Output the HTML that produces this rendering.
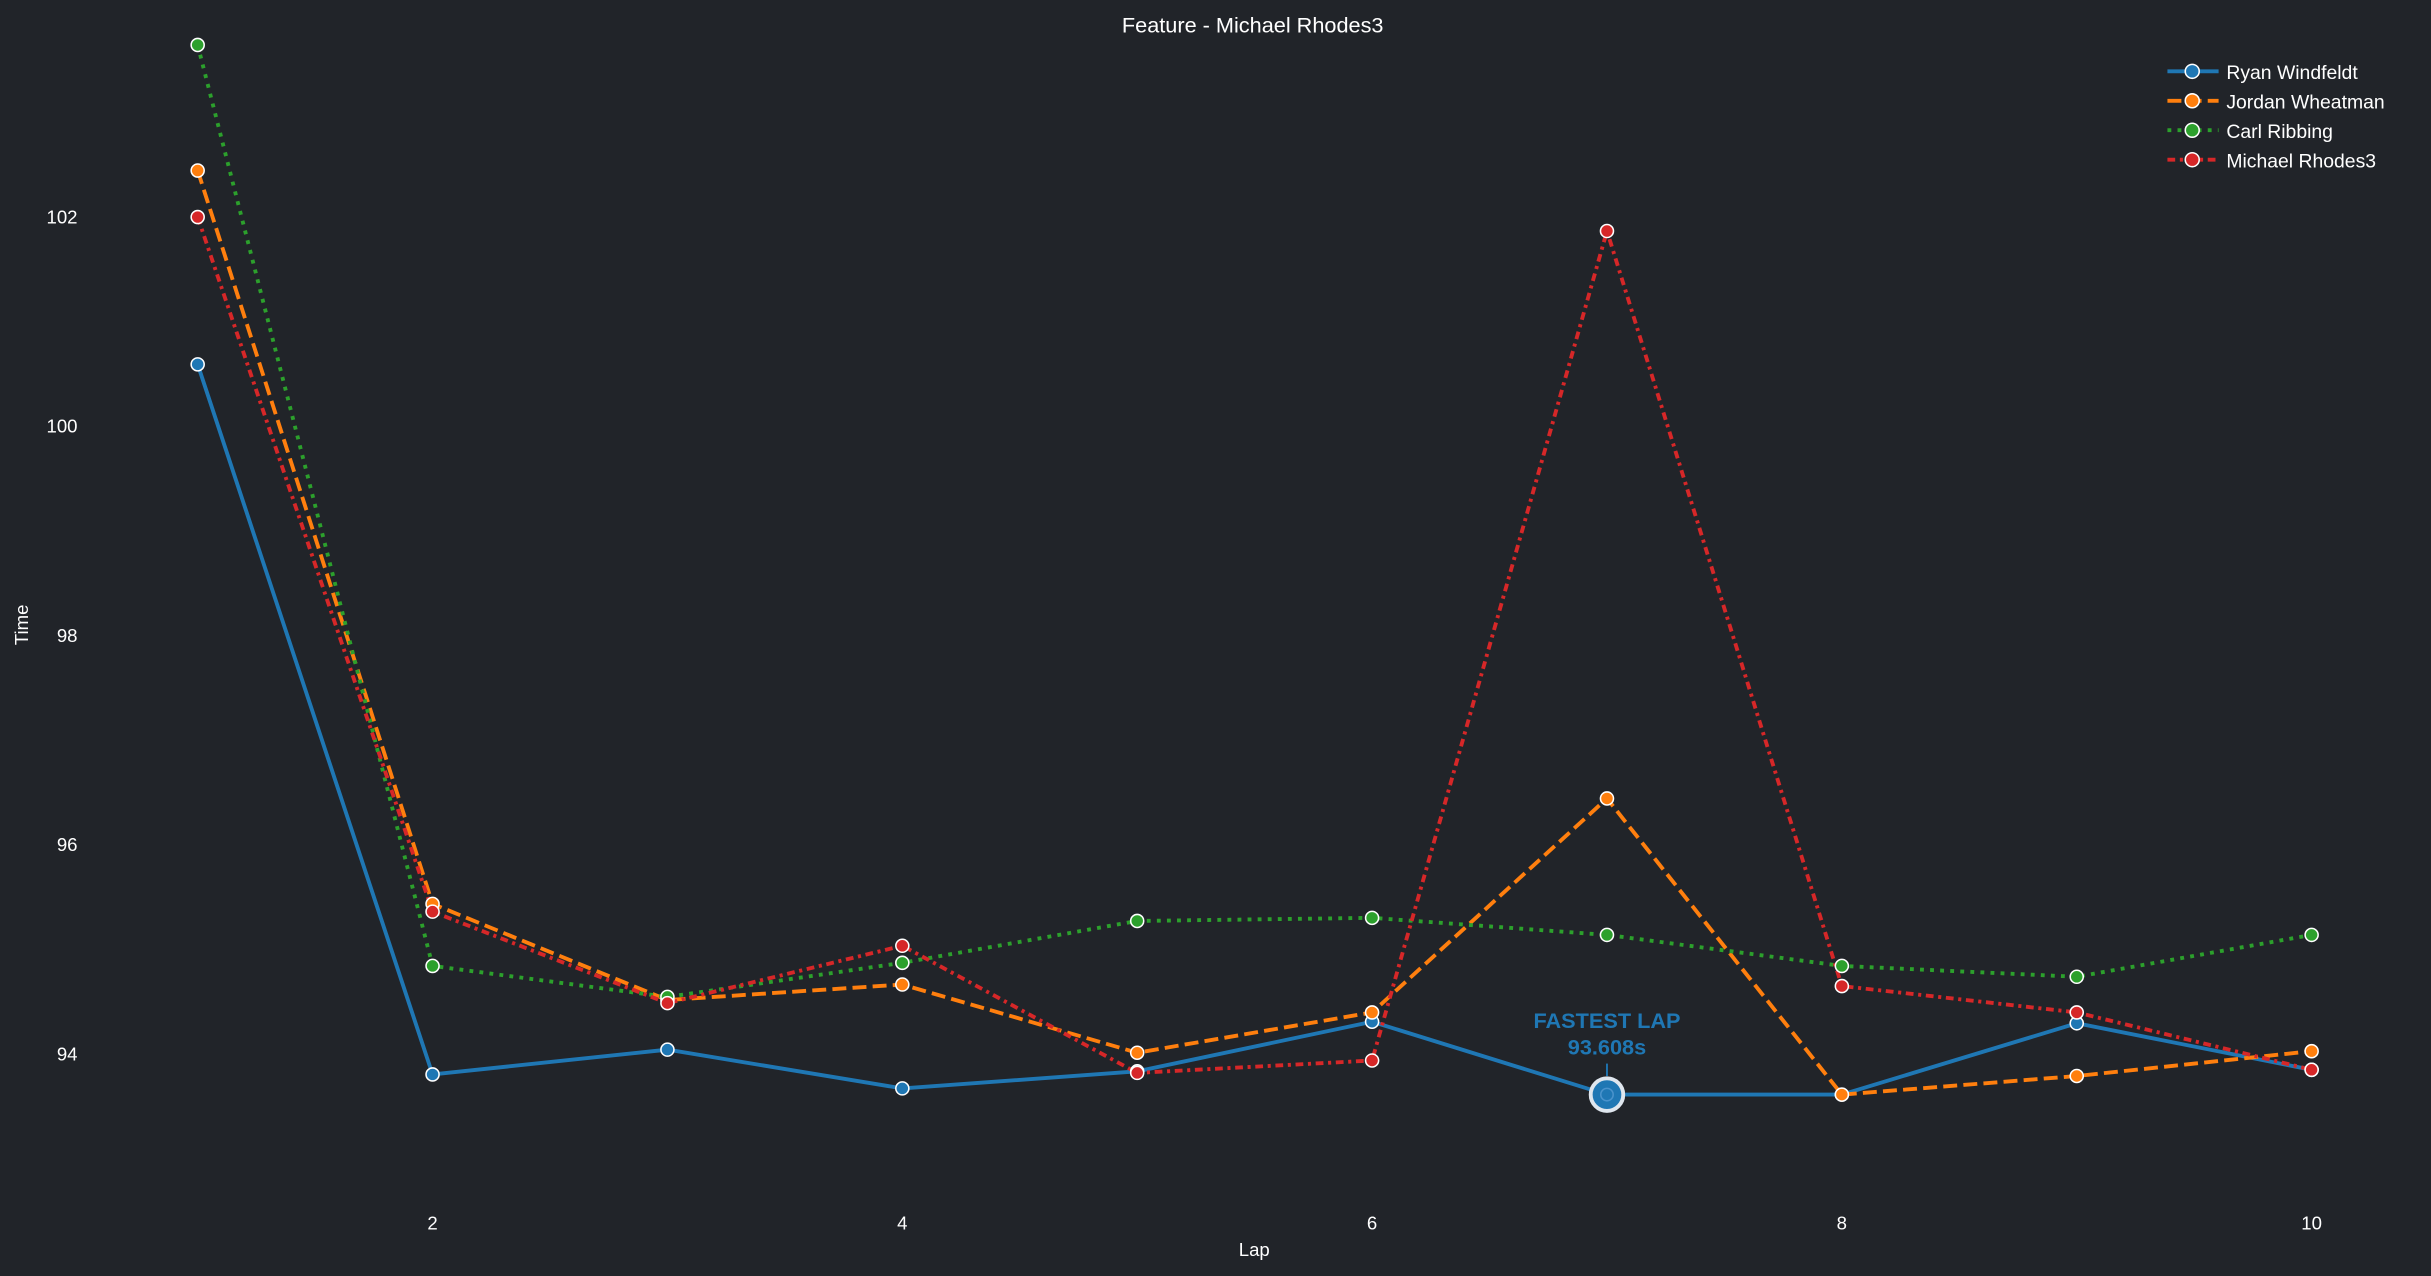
<!DOCTYPE html>
<html><head><meta charset="utf-8"><style>
html,body{margin:0;padding:0;background:#212429;}
svg{display:block;}
text{font-family:"Liberation Sans",Arial,sans-serif;fill:#fff;}
</style></head><body>
<svg width="2431" height="1276" viewBox="0 0 1568 823" preserveAspectRatio="none" xmlns="http://www.w3.org/2000/svg">
<rect width="1568" height="823" fill="#212429"/>
<text x="808" y="21" font-size="14" text-anchor="middle">Feature - Michael Rhodes3</text>
<g font-size="12" text-anchor="middle">
<text x="279" y="793">2</text><text x="582" y="793">4</text><text x="885" y="793">6</text><text x="1188" y="793">8</text><text x="1491" y="793">10</text>
<text x="809" y="810">Lap</text>
</g>
<g font-size="12" text-anchor="end">
<text x="50" y="684">94</text><text x="50" y="549">96</text><text x="50" y="414">98</text><text x="50" y="279">100</text><text x="50" y="144">102</text>
</g>
<text x="18" y="403" font-size="12" text-anchor="middle" transform="rotate(-90 18 403)">Time</text>

<polyline fill="none" stroke="#1f77b4" stroke-width="2.5" points="127.5,235 279,693 430.5,677 582,702 733.5,691 885,659 1036.5,706 1188,706 1339.5,660 1491,690"/>
<polyline fill="none" stroke="#ff7f0e" stroke-width="2.5" stroke-dasharray="9,4" points="127.5,110 279,583 430.5,645 582,635 733.5,679 885,653 1036.5,515 1188,706 1339.5,694 1491,678"/>
<polyline fill="none" stroke="#2ca02c" stroke-width="2.5" stroke-dasharray="2.5,4" points="127.5,29 279,623 430.5,643 582,621 733.5,594 885,592 1036.5,603 1188,623 1339.5,630 1491,603"/>
<polyline fill="none" stroke="#d62728" stroke-width="2.5" stroke-dasharray="5,3,2,3" points="127.5,140 279,588 430.5,647 582,610 733.5,692 885,684 1036.5,149 1188,636 1339.5,653 1491,690"/>

<g stroke="#fff" stroke-width="1">
<g fill="#1f77b4"><circle cx="127.5" cy="235" r="4.2"/><circle cx="279" cy="693" r="4.2"/><circle cx="430.5" cy="677" r="4.2"/><circle cx="582" cy="702" r="4.2"/><circle cx="733.5" cy="691" r="4.2"/><circle cx="885" cy="659" r="4.2"/><circle cx="1188" cy="706" r="4.2"/><circle cx="1339.5" cy="660" r="4.2"/><circle cx="1491" cy="690" r="4.2"/></g>
<g fill="#ff7f0e"><circle cx="127.5" cy="110" r="4.2"/><circle cx="279" cy="583" r="4.2"/><circle cx="430.5" cy="645" r="4.2"/><circle cx="582" cy="635" r="4.2"/><circle cx="733.5" cy="679" r="4.2"/><circle cx="885" cy="653" r="4.2"/><circle cx="1036.5" cy="515" r="4.2"/><circle cx="1188" cy="706" r="4.2"/><circle cx="1339.5" cy="694" r="4.2"/><circle cx="1491" cy="678" r="4.2"/></g>
<g fill="#2ca02c"><circle cx="127.5" cy="29" r="4.2"/><circle cx="279" cy="623" r="4.2"/><circle cx="430.5" cy="643" r="4.2"/><circle cx="582" cy="621" r="4.2"/><circle cx="733.5" cy="594" r="4.2"/><circle cx="885" cy="592" r="4.2"/><circle cx="1036.5" cy="603" r="4.2"/><circle cx="1188" cy="623" r="4.2"/><circle cx="1339.5" cy="630" r="4.2"/><circle cx="1491" cy="603" r="4.2"/></g>
<g fill="#d62728"><circle cx="127.5" cy="140" r="4.2"/><circle cx="279" cy="588" r="4.2"/><circle cx="430.5" cy="647" r="4.2"/><circle cx="582" cy="610" r="4.2"/><circle cx="733.5" cy="692" r="4.2"/><circle cx="885" cy="684" r="4.2"/><circle cx="1036.5" cy="149" r="4.2"/><circle cx="1188" cy="636" r="4.2"/><circle cx="1339.5" cy="653" r="4.2"/><circle cx="1491" cy="690" r="4.2"/></g>
</g>
<circle cx="1036.5" cy="706" r="10.5" fill="#1f77b4" stroke="#dfe6ee" stroke-width="2.5"/>
<circle cx="1036.5" cy="706" r="4" fill="none" stroke="#4a93cc" stroke-width="1"/>
<line x1="1036.5" y1="686" x2="1036.5" y2="694" stroke="#1f77b4" stroke-width="1.2"/>
<text x="1036.5" y="663" font-size="14" font-weight="bold" text-anchor="middle" style="fill:#1f77b4">FASTEST LAP</text>
<text x="1036.5" y="680" font-size="14" font-weight="bold" text-anchor="middle" style="fill:#1f77b4">93.608s</text>

<g font-size="12.5">
<line x1="1398" y1="46" x2="1431" y2="46" stroke="#1f77b4" stroke-width="2.5"/><circle cx="1414" cy="46" r="4.5" fill="#1f77b4" stroke="#fff"/><text x="1436" y="51">Ryan Windfeldt</text>
<line x1="1398" y1="65" x2="1431" y2="65" stroke="#ff7f0e" stroke-width="2.5" stroke-dasharray="9,4"/><circle cx="1414" cy="65" r="4.5" fill="#ff7f0e" stroke="#fff"/><text x="1436" y="70">Jordan Wheatman</text>
<line x1="1398" y1="84" x2="1431" y2="84" stroke="#2ca02c" stroke-width="2.5" stroke-dasharray="2.5,4"/><circle cx="1414" cy="84" r="4.5" fill="#2ca02c" stroke="#fff"/><text x="1436" y="89">Carl Ribbing</text>
<line x1="1398" y1="103" x2="1431" y2="103" stroke="#d62728" stroke-width="2.5" stroke-dasharray="5,3,2,3"/><circle cx="1414" cy="103" r="4.5" fill="#d62728" stroke="#fff"/><text x="1436" y="108">Michael Rhodes3</text>
</g>
</svg>
</body></html>
